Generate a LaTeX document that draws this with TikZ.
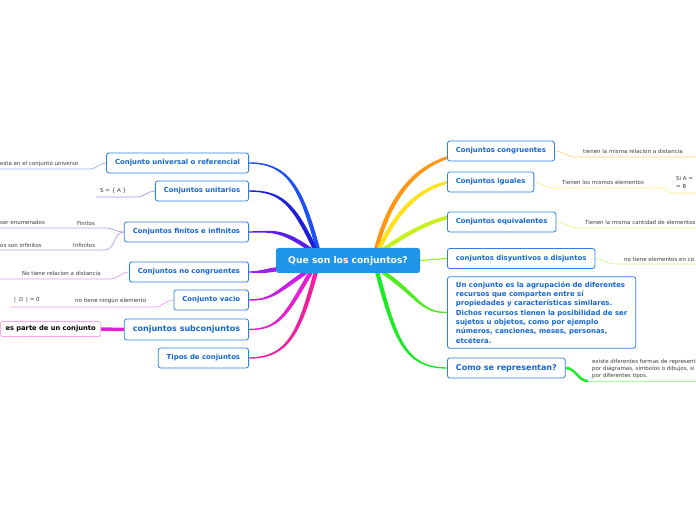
\documentclass[tikz,border=0pt]{standalone}
\usepackage{fontspec}
\setmainfont{DejaVu Sans}
\usetikzlibrary{positioning, calc}
\usetikzlibrary{backgrounds}

\definecolor{boxblue}{HTML}{2B80E8}
\definecolor{txtblue}{HTML}{1467D2}
\definecolor{mainblue}{HTML}{1E95E8}
\definecolor{leafgray}{HTML}{3C3C3C}
% branch colours
\definecolor{cuni}{HTML}{1E50F5}
\definecolor{cunit}{HTML}{1E1EDC}
\definecolor{cfin}{HTML}{5A1EE6}
\definecolor{cnocon}{HTML}{A01EEB}
\definecolor{cvac}{HTML}{C81EE6}
\definecolor{csub}{HTML}{E61ED2}
\definecolor{ctip}{HTML}{F01EA0}
\definecolor{ccong}{HTML}{FF9614}
\definecolor{cigu}{HTML}{FFE11E}
\definecolor{cequi}{HTML}{C8F01E}
\definecolor{cdis}{HTML}{96EB28}
\definecolor{cdef}{HTML}{50EB1E}
\definecolor{ccomo}{HTML}{1EEB28}

% tapered branch: colour, start, end, out angle, in angle
\newcommand{\branch}[5]{%
  \fill[#1] ($(#2)+(#4+90:2.1)$) to[out=#4,in=#5,out looseness=1.5,in looseness=0.9] ($(#3)+(#5-90:0.7)$)
    -- ($(#3)+(#5+90:0.7)$) to[out=#5,in=#4,in looseness=1.5,out looseness=0.9] ($(#2)+(#4-90:2.1)$) -- cycle;}

\begin{document}
\begin{tikzpicture}[x=1pt, y=1pt,
    topic/.style={draw=boxblue, line width=0.8pt, rounded corners=2.5pt, fill=white,
      text=txtblue, font=\fontsize{6.9}{8}\selectfont\bfseries, minimum height=20pt, inner xsep=8.5pt},
    bigtopic/.style={topic, font=\fontsize{8}{9}\selectfont\bfseries, minimum height=21pt},
    leaf/.style={text=leafgray, font=\fontsize{5.5}{6.5}\selectfont, inner sep=0pt, anchor=west},
    twig/.style={line width=0.7pt}]
    \useasboundingbox (0,0) rectangle (696,520);

    \node[fill=mainblue, text=white, rounded corners=2.5pt, font=\fontsize{9.2}{10}\selectfont\bfseries,
      minimum width=144pt, minimum height=25pt] (q) at (348,259.5) {Que son los conjuntos?};

    % left side
    \node[topic, anchor=east] (uni) at (249,357) {Conjunto universal o referencial};
    \node[topic, anchor=east] (unit) at (249,329) {Conjuntos unitarios};
    \node[topic, anchor=east] (fin) at (249,288) {Conjuntos finitos e infinitos};
    \node[topic, anchor=east] (nocon) at (249,248) {Conjuntos no congruentes};
    \node[topic, anchor=east] (vac) at (249,220) {Conjunto vacio};
    \node[bigtopic, anchor=east] (sub) at (249,190.5) {conjuntos subconjuntos};
    \node[topic, anchor=east] (tip) at (249,162) {Tipos de conjuntos};

    % right side
    \node[topic, anchor=west] (cong) at (447,369) {Conjuntos congruentes};
    \node[topic, anchor=west] (igu) at (447,338) {Conjuntos iguales};
    \node[topic, anchor=west] (equi) at (447,298) {Conjuntos equivalentes};
    \node[topic, anchor=west] (dis) at (447,261.5) {conjuntos disyuntivos o disjuntos};
    \node[topic, anchor=west, align=left, font=\fontsize{6.95}{9.3}\selectfont\bfseries,
      inner ysep=5pt] (def) at (447,207.5)
      {Un conjunto es la agrupación de diferentes\\recursos que comparten entre sí\\propiedades y características similares.\\Dichos recursos tienen la posibilidad de ser\\sujetos u objetos, como por ejemplo\\números, canciones, meses, personas,\\etcétera.};
    \node[bigtopic, anchor=west, minimum height=20pt] (como) at (447,152) {Como se representan?};

    % leaves
    \node[leaf] (l1) at (0,356) {esta en el conjunto universo};
    \node[leaf] (l2) at (100,329) {S = \{ A \}};
    \node[leaf] (l3a) at (0,298) {ser enumerados};
    \node[leaf] (l3b) at (77,297) {Finitos};
    \node[leaf] (l3c) at (0,275) {os son infinitos};
    \node[leaf] (l3d) at (73,274.5) {Infinitos};
    \node[leaf] (l4) at (22,247) {No tiene relacion a distancia};
    \node[leaf] (l5a) at (14,220) {|\, ∅ \,| = 0};
    \node[leaf] (l5b) at (75,219) {no tiene ningún elemento};
    \node[draw=csub!40, fill=white, rounded corners=2pt, line width=0.7pt,
      font=\fontsize{6.7}{8}\selectfont\bfseries, minimum height=15pt, inner xsep=5pt,
      anchor=east] (part) at (101,191) {es parte de un conjunto};
    \node[leaf] (r1) at (583,369) {tienen la misma relacion a distancia};
    \node[leaf] (r2) at (562,338) {Tienen los mismos elementos};
    \node[leaf] (r2a) at (676,342) {Si A =};
    \node[leaf] (r2b) at (676,334) {= B};
    \node[leaf] (r3) at (585,298) {Tienen la misma cantidad de elementos};
    \node[leaf] (r4) at (624,261) {no tiene elementos en co};
    \node[leaf, align=left, font=\fontsize{5.5}{7}\selectfont] (r6) at (592,151)
      {existe diferentes formas de represent\\por diagramas, símbolos o dibujos, si\\por diferentes tipos.};

    \begin{scope}[on background layer]
    % branch starts
    \coordinate (s1) at ($(q.north west)+(42,-1)$);
    \coordinate (s2) at ($(q.north west)+(39,-1)$);
    \coordinate (s3) at ($(q.north west)+(35,-2)$);
    \coordinate (s4) at ($(q.south west)+(1,4)$);
    \coordinate (s5) at ($(q.south west)+(30,1)$);
    \coordinate (s6) at ($(q.south west)+(35,1)$);
    \coordinate (s7) at ($(q.south west)+(40,1)$);
    \coordinate (t1) at ($(q.north east)+(-44,-1)$);
    \coordinate (t2) at ($(q.north east)+(-41,-1)$);
    \coordinate (t3) at ($(q.north east)+(-37,-2)$);
    \coordinate (t5) at ($(q.south east)+(-37,1)$);
    \coordinate (t6) at ($(q.south east)+(-43,1)$);

    \branch{cuni}{s1}{uni.east}{105}{0}
    \branch{cunit}{s2}{unit.east}{115}{0}
    \branch{cfin}{s3}{fin.east}{145}{0}
    \branch{cnocon}{s4}{nocon.east}{190}{0}
    \branch{cvac}{s5}{vac.east}{215}{0}
    \branch{csub}{s6}{sub.east}{240}{0}
    \branch{ctip}{s7}{tip.east}{255}{0}
    \branch{ccong}{t1}{cong.east}{75}{180}
    \branch{cigu}{t2}{igu.east}{65}{180}
    \branch{cequi}{t3}{equi.east}{35}{180}
    \branch{cdef}{t5}{def.west}{-35}{180}
    \branch{ccomo}{t6}{como.west}{-75}{180}
    \draw[line width=1.1pt, cdis] (q.east) -- (dis.west);

    % twigs
    \draw[twig, cuni!45] (uni.west) to[out=180,in=0] (90,351) -- (0,351);
    \draw[twig, cunit!45] (unit.west) to[out=180,in=0] (137,323) -- (96,323);
    \draw[twig, cfin!45] (fin.west) to[out=180,in=0] (105,292) -- (0,292);
    \draw[twig, cfin!45] (fin.west) to[out=180,in=0] (105,270) -- (0,270);
    \draw[twig, cnocon!45] (nocon.west) to[out=180,in=0] (110,241) -- (0,241);
    \draw[twig, cvac!45] (vac.west) to[out=180,in=0] (155,213) -- (10,213);
    \draw[line width=3.5pt, csub] (sub.west) -- (part.east);
    \draw[twig, ccong!50] (cong.east) to[out=0,in=180] (575,363) -- (696,363);
    \draw[twig, cigu!55] (igu.east) to[out=0,in=180] (552,332) -- (660,332)
      to[out=0,in=180] (674,327) -- (696,327);
    \draw[twig, cequi!55] (equi.east) to[out=0,in=180] (577,292) -- (696,292);
    \draw[twig, cdis!50] (dis.east) to[out=0,in=180] (615,256) -- (696,256);
    \draw[line width=2.5pt, ccomo] (como.east) to[out=0,in=180] (588,139);
    \draw[twig, ccomo!40] (588,139) -- (696,139);
    \end{scope}
\end{tikzpicture}
\end{document}
